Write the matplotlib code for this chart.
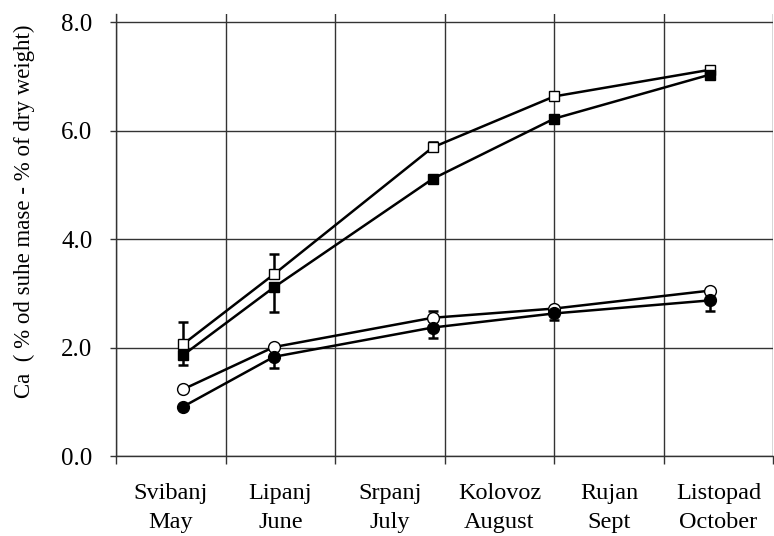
import matplotlib
matplotlib.use("Agg")
import matplotlib.pyplot as plt
import numpy as np

plt.rcParams['font.family'] = ['Liberation Serif', 'DejaVu Serif']

# month bins on the x axis (one unit each)
months_hr = ['Svibanj', 'Lipanj', 'Srpanj', 'Kolovoz', 'Rujan', 'Listopad']
months_en = ['May', 'June', 'July', 'August', 'Sept', 'October']

# sampling dates, in month units from the start of May
sample_pos = [0.61, 1.44, 2.89, 4.0, 5.42]

# Ca content, % of dry weight
sq_open = [2.06, 3.35, 5.69, 6.63, 7.12]
sq_open_err = [0.42, 0.37, 0.10, 0.0, 0.0]
sq_filled = [1.86, 3.11, 5.11, 6.22, 7.03]
sq_filled_err = [0.18, 0.46, 0.0, 0.0, 0.0]
ci_open = [1.23, 2.01, 2.55, 2.72, 3.05]
ci_open_err = [0.0, 0.0, 0.13, 0.0, 0.0]
ci_filled = [0.91, 1.83, 2.37, 2.63, 2.87]
ci_filled_err = [0.0, 0.21, 0.20, 0.12, 0.20]

fig = plt.figure(figsize=(7.74, 5.36), dpi=100)
ax = fig.add_axes([0.150, 0.149, 0.849, 0.825])

series = [
    (sq_open, sq_open_err, 's', 'white', 'up'),
    (sq_filled, sq_filled_err, 's', 'black', 'down'),
    (ci_open, ci_open_err, 'o', 'white', 'up'),
    (ci_filled, ci_filled_err, 'o', 'black', 'down'),
]

x = np.array(sample_pos)
for vals, errs, mk, face, side in series:
    vals = np.array(vals)
    errs = np.array(errs)
    ax.plot(x, vals, '-', color='black', lw=1.8, zorder=3)
    keep = errs > 0
    if keep.any():
        zero = np.zeros(keep.sum())
        yerr = [zero, errs[keep]] if side == 'up' else [errs[keep], zero]
        ax.errorbar(x[keep], vals[keep], yerr=yerr, fmt='none', ecolor='black',
                    elinewidth=1.8, capsize=3.6, capthick=1.8, zorder=2)
    ms = 7.5 if mk == 's' else 8.5
    ax.plot(x, vals, mk, ms=ms, mfc=face, mec='black', mew=1.0, zorder=4)

ax.set_xlim(0, 6)
ax.set_ylim(0, 8.15)

ax.set_yticks([0, 2, 4, 6, 8])
ax.set_yticklabels(['0.0', '2.0', '4.0', '6.0', '8.0'], fontsize=18)
ax.set_xticks(range(7))
ax.set_xticklabels([])
ax.set_xticks(np.arange(6) + 0.5, minor=True)
ax.set_xticklabels([a + '\n' + b for a, b in zip(months_hr, months_en)],
                   minor=True, fontsize=17.5, linespacing=1.55)
ax.tick_params(axis='x', which='minor', length=0, pad=19)
ax.tick_params(axis='x', which='major', direction='out', length=6, width=1, color='#333333')
ax.tick_params(axis='y', direction='out', length=4, width=1, color='#333333', pad=13)

ax.grid(True, which='major', color='#333333', lw=1.0, zorder=0)
for side in ['top', 'right']:
    ax.spines[side].set_visible(False)
for side in ['left', 'bottom']:
    ax.spines[side].set_color('#333333')
    ax.spines[side].set_linewidth(1.0)

fig.text(0.031, 0.606, 'Ca  ( % od suhe mase - % of dry weight)', rotation=90,
         ha='center', va='center', fontsize=16.5)

fig.savefig('out.png', dpi=100)
